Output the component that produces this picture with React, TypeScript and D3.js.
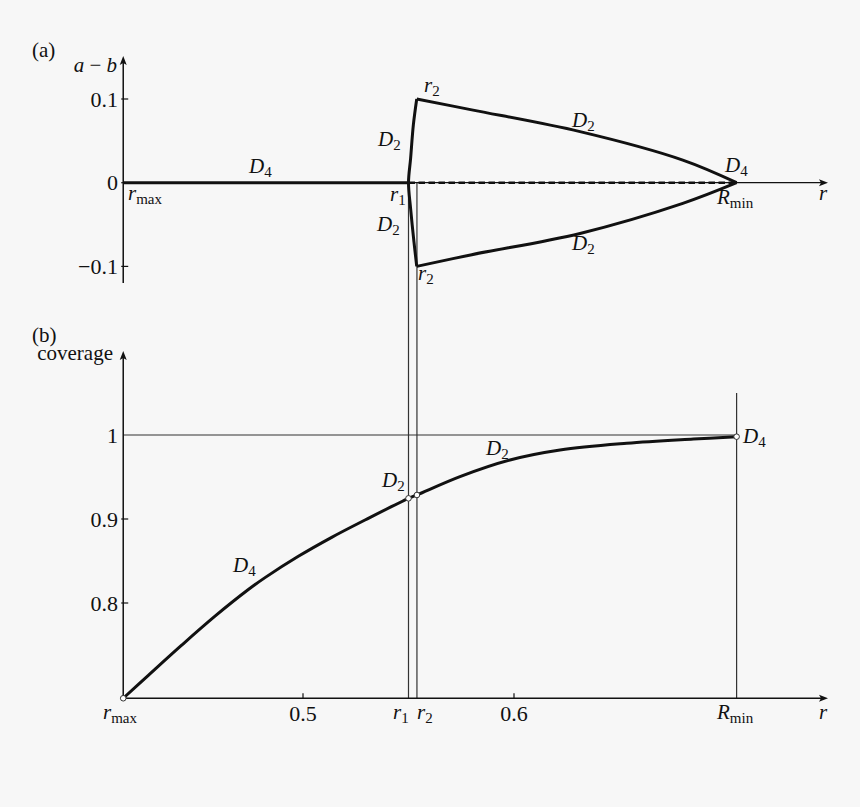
import React from 'react';
import * as d3 from 'd3';

// key radii on the r axis
const R_MAX = 0.4148;
const R1 = 0.55;
const R2 = 0.554;
const R_MIN = 0.7055;

const xTicks = [0.5, 0.6];
const aTicks = [0.1, 0, -0.1];
const bTicks = [1, 0.9, 0.8];
const aTickLabels = ['0.1', '0', '\u22120.1'];
const bTickLabels = ['1', '0.9', '0.8'];

// (a) a - b : D2 boundary pieces
const leftEdgeR = [0.5539, 0.5523, 0.551, 0.55, 0.551, 0.5526, 0.5539];
const leftEdgeV = [0.1, 0.069, 0.029, 0, -0.031, -0.071, -0.1];
const upperR = [0.5539, 0.58, 0.6313, 0.68, 0.7055];
const upperV = [0.1, 0.087, 0.061, 0.027, 0];
const lowerR = [0.5539, 0.58, 0.6313, 0.68, 0.7055];
const lowerV = [-0.1, -0.086, -0.0606, -0.0247, 0];

// (b) coverage
const covR = [0.4148, 0.4267, 0.4425, 0.4583, 0.4741, 0.482, 0.4978, 0.5136, 0.5294, 0.55, 0.554, 0.5744, 0.5981, 0.6218, 0.6534, 0.685, 0.7055];
const covV = [0.6866, 0.7139, 0.7498, 0.7843, 0.816, 0.8302, 0.8556, 0.8782, 0.8988, 0.9246, 0.9286, 0.9504, 0.9702, 0.9821, 0.9901, 0.9952, 0.998];
const covDots = [R_MAX, R1, R2, R_MIN];
const covDotV = [0.6866, 0.9246, 0.9286, 0.998];

const W = 860;
const H = 807;
const FONT = 'Liberation Serif, Times New Roman, DejaVu Serif, serif';
const INK = '#111';

const x = d3.scaleLinear().domain([0.5, 0.6]).range([303, 514]);
const ya = d3.scaleLinear().domain([0, 0.1]).range([182.7, 99]);
const yb = d3.scaleLinear().domain([0.9, 1.0]).range([519, 435]);

const X0 = x(R_MAX);
const X_END = 828;

type SymProps = { x: number; y: number; base: string; sub?: string; anchor?: 'start' | 'middle' | 'end' };

const Sym: React.FC<SymProps> = ({ x, y, base, sub, anchor = 'start' }) => (
  <text x={x} y={y} textAnchor={anchor} style={{ fontFamily: FONT, fontSize: 21 }} fill={INK}>
    <tspan fontStyle="italic">{base}</tspan>
    {sub && (
      <tspan style={{ fontSize: 15 }} dy={4}>{sub}</tspan>
    )}
  </text>
);

const Txt: React.FC<{ x: number; y: number; size?: number; anchor?: 'start' | 'middle' | 'end'; children: React.ReactNode }> = ({ x, y, size = 21, anchor = 'start', children }) => (
  <text x={x} y={y} textAnchor={anchor} style={{ fontFamily: FONT, fontSize: size }} fill={INK}>{children}</text>
);

const arrowRight = (px: number, py: number) => `M${px},${py}L${px - 9},${py - 3.5}L${px - 7},${py}L${px - 9},${py + 3.5}Z`;
const arrowUp = (px: number, py: number) => `M${px},${py}L${px - 3.5},${py + 9}L${px},${py + 7}L${px + 3.5},${py + 9}Z`;

const App: React.FC = () => {
  const edgePath = d3.line<number>()
    .x(i => x(leftEdgeR[i]))
    .y(i => ya(leftEdgeV[i]))
    .curve(d3.curveCatmullRom)(leftEdgeR.map((_, i) => i));
  const upperPath = d3.line<number>()
    .x(i => x(upperR[i]))
    .y(i => ya(upperV[i]))
    .curve(d3.curveCatmullRom)(upperR.map((_, i) => i));
  const lowerPath = d3.line<number>()
    .x(i => x(lowerR[i]))
    .y(i => ya(lowerV[i]))
    .curve(d3.curveCatmullRom)(lowerR.map((_, i) => i));
  const covPath = d3.line<number>()
    .x(i => x(covR[i]))
    .y(i => yb(covV[i]))
    .curve(d3.curveCatmullRom.alpha(0.5))(covR.map((_, i) => i));

  const yb0 = yb(0.6866);

  return (
    <svg width={W} height={H} style={{ position: 'absolute', left: 0, top: 0, background: '#f7f7f7' }}>
      {/* ---------- panel (a) ---------- */}
      <Txt x={32} y={57}>(a)</Txt>
      <Txt x={117} y={72} anchor="end">
        <tspan fontStyle="italic">a</tspan> {'\u2212'} <tspan fontStyle="italic">b</tspan>
      </Txt>

      {/* thin guide lines at r1 and r2 */}
      <line x1={x(R1)} x2={x(R1)} y1={ya(0)} y2={yb0} stroke="#333" strokeWidth={1.2} />
      <line x1={x(R2)} x2={x(R2)} y1={ya(0)} y2={yb0} stroke="#333" strokeWidth={1.2} />

      {/* axes */}
      <line x1={X0} x2={X0} y1={283} y2={62} stroke={INK} strokeWidth={1.5} />
      <path d={arrowUp(X0, 56)} fill={INK} />
      <line x1={X0} x2={X_END - 4} y1={ya(0)} y2={ya(0)} stroke={INK} strokeWidth={1.3} />
      <path d={arrowRight(X_END, ya(0))} fill={INK} />
      {aTicks.map((t, i) => (
        <g key={t}>
          <line x1={X0 - 2} x2={X0 + 5} y1={ya(t)} y2={ya(t)} stroke={INK} strokeWidth={1.2} />
          <Txt x={118} y={ya(t) + 7.5} size={22} anchor="end">{aTickLabels[i]}</Txt>
        </g>
      ))}

      {/* D4 segment and dashed zero */}
      <line x1={X0} x2={x(R1)} y1={ya(0)} y2={ya(0)} stroke={INK} strokeWidth={3} />
      <line x1={x(R1)} x2={x(R_MIN)} y1={ya(0)} y2={ya(0)} stroke={INK} strokeWidth={2.6} strokeDasharray="6.5 3.5" />
      <path d={edgePath ?? ''} fill="none" stroke={INK} strokeWidth={3} />
      <path d={upperPath ?? ''} fill="none" stroke={INK} strokeWidth={3} />
      <path d={lowerPath ?? ''} fill="none" stroke={INK} strokeWidth={3} />

      <Sym x={128} y={200} base="r" sub="max" />
      <Sym x={249} y={173} base="D" sub="4" />
      <Sym x={378} y={146} base="D" sub="2" />
      <Sym x={390} y={201} base="r" sub="1" />
      <Sym x={377} y={231} base="D" sub="2" />
      <Sym x={424} y={92} base="r" sub="2" />
      <Sym x={418} y={280} base="r" sub="2" />
      <Sym x={572} y={127} base="D" sub="2" />
      <Sym x={725} y={172} base="D" sub="4" />
      <Sym x={717} y={204} base="R" sub="min" />
      <Sym x={819} y={200} base="r" />
      <Sym x={572} y={250} base="D" sub="2" />

      {/* ---------- panel (b) ---------- */}
      <Txt x={32} y={342}>(b)</Txt>
      <Txt x={113} y={360} anchor="end">coverage</Txt>

      <line x1={X0} x2={x(R_MIN)} y1={yb(1)} y2={yb(1)} stroke="#333" strokeWidth={1.2} />
      <line x1={x(R_MIN)} x2={x(R_MIN)} y1={yb(1.05)} y2={yb0} stroke="#333" strokeWidth={1.2} />

      <line x1={X0} x2={X0} y1={yb0} y2={357} stroke={INK} strokeWidth={1.5} />
      <path d={arrowUp(X0, 351)} fill={INK} />
      <line x1={X0} x2={X_END - 4} y1={yb0} y2={yb0} stroke={INK} strokeWidth={1.3} />
      <path d={arrowRight(X_END, yb0)} fill={INK} />
      {bTicks.map((t, i) => (
        <g key={t}>
          {t !== 1 && <line x1={X0 - 2} x2={X0 + 5} y1={yb(t)} y2={yb(t)} stroke={INK} strokeWidth={1.2} />}
          <Txt x={118} y={yb(t) + 7.5} size={22} anchor="end">{bTickLabels[i]}</Txt>
        </g>
      ))}
      {xTicks.map(t => (
        <g key={t}>
          <line x1={x(t)} x2={x(t)} y1={yb0} y2={yb0 - 5} stroke={INK} strokeWidth={1.2} />
          <Txt x={x(t)} y={721} size={22} anchor="middle">{t.toFixed(1)}</Txt>
        </g>
      ))}

      <path d={covPath ?? ''} fill="none" stroke={INK} strokeWidth={3} />
      {covDots.map((r, i) => (
        <circle key={r} cx={x(r)} cy={yb(covDotV[i])} r={2.8} fill="#fff" stroke="#333" strokeWidth={1} />
      ))}

      <Sym x={103} y={719} base="r" sub="max" />
      <Sym x={393} y={719} base="r" sub="1" />
      <Sym x={417} y={719} base="r" sub="2" />
      <Sym x={717} y={719} base="R" sub="min" />
      <Sym x={819} y={719} base="r" />
      <Sym x={233} y={572} base="D" sub="4" />
      <Sym x={382} y={487} base="D" sub="2" />
      <Sym x={486} y={455} base="D" sub="2" />
      <Sym x={743} y={443} base="D" sub="4" />
    </svg>
  );
};

export default App;
